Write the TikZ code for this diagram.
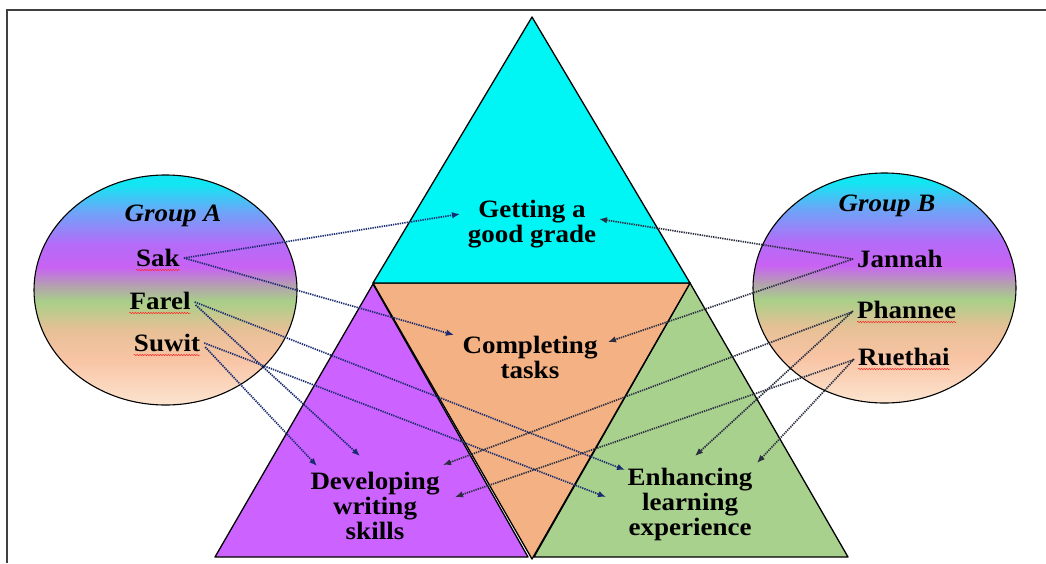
\documentclass[tikz,border=0pt]{standalone}
\usepackage{fontspec}
\setmainfont{Liberation Serif}[FakeStretch=1.08]
\usetikzlibrary{arrows.meta,decorations.pathmorphing,shapes.geometric}
\definecolor{cy}{HTML}{12E6F2}
\definecolor{lb}{HTML}{6EA4F8}
\definecolor{pu}{HTML}{B46CF8}
\definecolor{mg}{HTML}{C862F4}
\definecolor{gy}{HTML}{B4A0B0}
\definecolor{gr}{HTML}{A8D088}
\definecolor{tn}{HTML}{E6C096}
\definecolor{pk2}{HTML}{F8C4A4}
\definecolor{pk3}{HTML}{FCE4D0}
\definecolor{triC}{HTML}{00F5F5}
\definecolor{triO}{HTML}{F4B183}
\definecolor{triP}{HTML}{CC62FF}
\definecolor{triG}{HTML}{A9D18E}
\definecolor{lnA}{HTML}{1A2C70}
\definecolor{lnB}{HTML}{2A2E40}
\pgfdeclareverticalshading{grp}{100bp}{color(0bp)=(pk3); color(25bp)=(pk3); color(35bp)=(pk2); color(41.5bp)=(tn); color(47.5bp)=(gr); color(51bp)=(gy); color(55bp)=(mg); color(60bp)=(pu); color(67bp)=(lb); color(73bp)=(cy); color(100bp)=(cy)}
\tikzset{
  tri/.style={draw=black, line width=1.3pt, line join=round},
  lbl/.style={font=\bfseries\fontsize{25}{25}\selectfont, align=center, inner sep=0pt},
  nm/.style={font=\bfseries\fontsize{25}{25}\selectfont, inner sep=0pt},
  grpname/.style={font=\bfseries\itshape\fontsize{25}{25}\selectfont, inner sep=0pt},
  grpell/.style={ellipse, draw=black, line width=1.1pt, shade, shading=grp, minimum width=263pt, minimum height=230pt, inner sep=0pt},
  lnk/.style={line width=1.7pt, dash pattern=on 1.3pt off 1.0pt, -{Latex[length=8pt,width=6.5pt]}},
  sq/.style={draw=red!85!white, line width=0.5pt, decorate, decoration={snake, amplitude=0.7pt, segment length=2.6pt}},
}
\begin{document}
\begin{tikzpicture}[x=1pt,y=-1pt]
\useasboundingbox (0,0) rectangle (1046,563);
\fill[white] (0,0) rectangle (1046,563);
\draw[line width=2pt, draw=black!75] (7,563) -- (7,9.5) -- (1046,9.5);

% triangles
\coordinate (top) at (532,17);
\coordinate (ml) at (373,283);
\coordinate (mr) at (690,283);
\coordinate (bot) at (532,559);
\filldraw[tri, fill=triP] (373,284) -- (215,557) -- (528,557) -- cycle;
\filldraw[tri, fill=triG] (690,283) -- (534,557) -- (848,557) -- cycle;
\filldraw[tri, fill=triO] (ml) -- (mr) -- (bot) -- cycle;
\filldraw[tri, fill=triC] (top) -- (ml) -- (mr) -- cycle;

% group ellipses
\node[grpell] (ellA) at (165.5,290) {};
\node[grpell] (ellB) at (884.5,288) {};

% labels
\node[lbl] (good) at (532,224) {Getting a\\good grade};
\node[lbl] (tasks) at (530,357) {Completing\\tasks};
\node[lbl] (dev) at (375,506) {Developing\\writing\\skills};
\node[lbl] (enh) at (690,504) {Enhancing\\learning\\experience};

\node[grpname] (gA) at (173,216) {Group A};
\node[grpname] (gB) at (887,206) {Group B};
\node[nm] (sak) at (158,258) {Sak};
\node[nm] (farel) at (160,301) {Farel};
\node[nm] (suwit) at (167,343) {Suwit};
\node[nm, anchor=west] (jannah) at (857,259) {Jannah};
\node[nm, anchor=west] (phannee) at (857,310) {Phannee};
\node[nm, anchor=west] (ruethai) at (858,357) {Ruethai};

% spell-check squiggles
\foreach \n in {sak,farel,suwit,phannee,ruethai}{
  \draw[sq] ([yshift=-3pt]\n.south west) -- ([yshift=-3pt]\n.south east);
}

% arrow end points
\coordinate (aSakG) at (460,214);
\coordinate (aSakC) at (454,335);
\coordinate (aFarE) at (625,470);
\coordinate (aFarD) at (360,456);
\coordinate (aSuwD) at (317,466);
\coordinate (aSuwE) at (606,497);
\coordinate (aJanG) at (599,219);
\coordinate (aJanC) at (608,342);
\coordinate (aPhaD) at (443,465);
\coordinate (aPhaE) at (695,456);
\coordinate (aRueD) at (455,497);
\coordinate (aRueE) at (757,463);

\draw[lnk, draw=lnA, color=lnA] ([xshift=4pt]sak.east) -- (aSakG);
\draw[lnk, draw=lnA, color=lnA] ([xshift=4pt]sak.east) -- (aSakC);
\draw[lnk, draw=lnA, color=lnA] ([xshift=4pt,yshift=-1pt]farel.east) -- (aFarE);
\draw[lnk, draw=lnA, color=lnA] ([xshift=5pt,yshift=-4pt]farel.east) -- (aFarD);
\draw[lnk, draw=lnA, color=lnA] ([xshift=4pt]suwit.east) -- (aSuwE);
\draw[lnk, draw=lnA, color=lnA] ([xshift=5pt,yshift=-4pt]suwit.east) -- (aSuwD);
\draw[lnk, draw=lnB, color=lnB] ([xshift=-4pt]jannah.west) -- (aJanG);
\draw[lnk, draw=lnB, color=lnB] ([xshift=-4pt]jannah.west) -- (aJanC);
\draw[lnk, draw=lnB, color=lnB] ([xshift=-5pt,yshift=-2pt]phannee.west) -- (aPhaD);
\draw[lnk, draw=lnB, color=lnB] ([xshift=-4pt,yshift=-1pt]phannee.west) -- (aPhaE);
\draw[lnk, draw=lnB, color=lnB] ([xshift=-5pt,yshift=-3pt]ruethai.west) -- (aRueD);
\draw[lnk, draw=lnB, color=lnB] ([xshift=-4pt,yshift=-2pt]ruethai.west) -- (aRueE);
\end{tikzpicture}
\end{document}
